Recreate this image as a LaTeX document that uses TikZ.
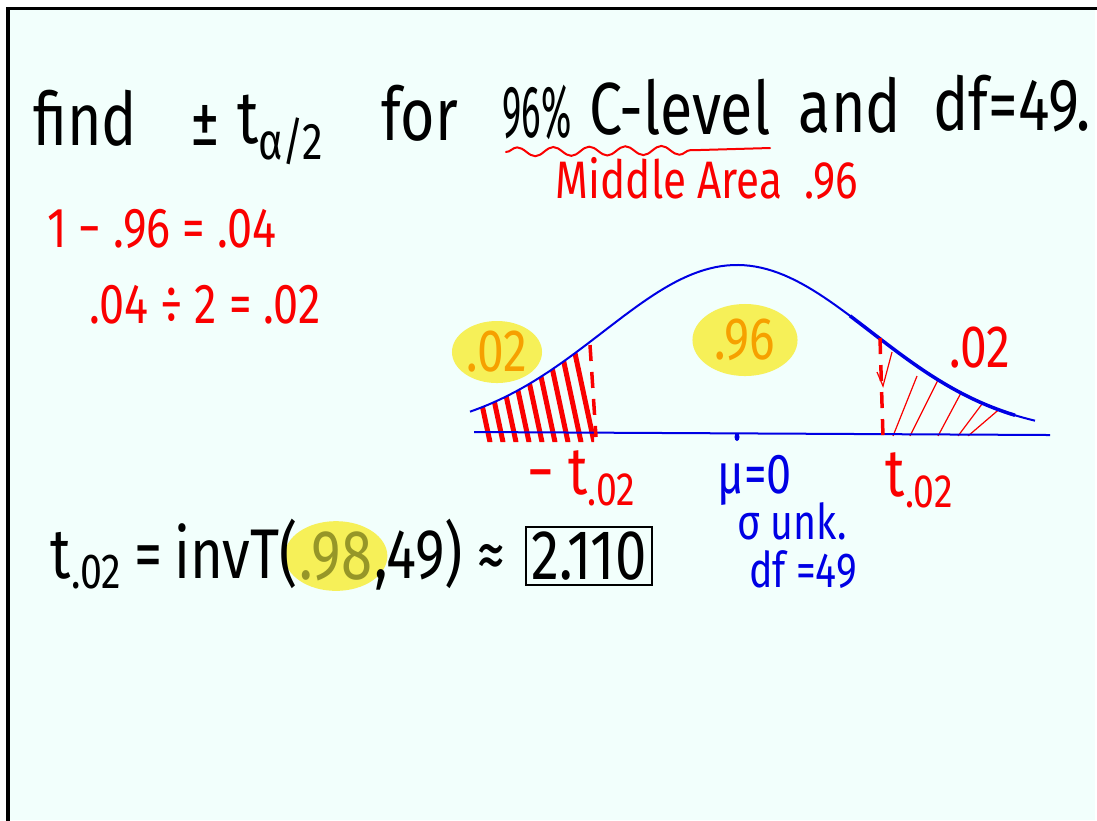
\documentclass[tikz,border=0pt]{standalone}
\usepackage{fontspec}
\setmainfont[FakeStretch=0.8]{Fira Sans}
\usetikzlibrary{positioning,shapes.geometric,decorations.pathmorphing}

\definecolor{paper}{RGB}{242,255,252}
\definecolor{inkred}{RGB}{250,0,0}
\definecolor{inkblue}{RGB}{0,0,228}
\definecolor{hilite}{RGB}{246,240,88}
\definecolor{inkorange}{RGB}{246,160,0}
\definecolor{inkolive}{RGB}{150,150,40}

\newcommand{\tcurve}[1]{435-170*exp(-0.5*((#1-737)/134)^2)}

\begin{document}
\begin{tikzpicture}[
        x=0.01cm, y=-0.01cm,
        title/.style={anchor=base, inner sep=0pt, font=\fontsize{21}{24}\selectfont},
        redtext/.style={text=inkred, inner sep=0pt, font=\fontsize{16}{19}\selectfont},
        bluetext/.style={text=inkblue, inner sep=0pt, font=\fontsize{14}{17}\selectfont},
        blacktext/.style={text=black, inner sep=0pt, font=\fontsize{20}{24}\selectfont},
        blob/.style={ellipse, fill=hilite, inner sep=0pt, text=inkorange, font=\fontsize{17}{20}\selectfont},
        redline/.style={draw=inkred, line width=0.02cm, line cap=round},
        curveline/.style={draw=inkblue, line width=0.02cm},
        hatchthick/.style={draw=inkred, line width=0.05cm, line cap=round},
        hatchthin/.style={draw=inkred, line width=0.012cm},
        cutline/.style={draw=inkred, line width=0.035cm, dash pattern=on 0.16cm off 0.11cm}
    ]

    % Paper and frame
    \useasboundingbox (0,0) rectangle (1097,820);
    \fill[white] (0,0) rectangle (1097,820);
    \fill[paper] (9,9) rectangle (1095,820);
    \draw[line width=0.03cm] (8,822) -- (8,8) -- (1097,8);

    % Question
    \node[title] (find) at (85,145) {find};
    \node[title] (pm) at (205,145) {±};
    \node[title] (talpha) at (281,143) {t\textsubscript{α/2}};
    \node[title] (for) at (420,140) {for};
    \node[title] (pct) at (537,137) {\scalebox{0.62}[1]{96\%}};
    \node[title] (clevel) at (680,134) {C-level};
    \node[title] (and) at (850,132) {and};
    \node[title] (df) at (1012,130) {df=49.};
    \draw[redline] decorate[decoration={snake, amplitude=0.045cm, segment length=0.36cm}] {(506,152) -- (700,150)} -- (770,148);
    \node[redtext, font=\fontsize{15}{18}\selectfont] (middle) at (707,178) {Middle Area\ \ .96};

    % Working on the left
    \node[redtext] (tails) at (162,229) {1 − .96 = .04};
    \node[redtext] (half) at (205,305) {.04 ÷ 2 = .02};

    % Highlights
    \node[blob, minimum width=0.9cm, minimum height=0.62cm] (leftarea) at (497,352) {.02};
    \node[blob, minimum width=1.05cm, minimum height=0.72cm] (midarea) at (745,340) {.96};
    \node[redtext, font=\fontsize{17}{20}\selectfont] (rightarea) at (980,348) {.02};

    % Shaded tails
    \begin{scope}
        \clip plot[domain=474:594, samples=40] (\x, {\tcurve{\x}}) -- (594,442) -- (474,442) -- cycle;
        \foreach \x in {490,503,...,596}
            \draw[hatchthick] ({\x-24},330) -- (\x,442);
    \end{scope}
    \begin{scope}
        \clip plot[domain=883:1035, samples=40] (\x, {\tcurve{\x}}) -- (1035,436) -- (883,436) -- cycle;
        \foreach \x/\dx in {893/24, 910/30, 938/32, 958/45, 968/70}
            \draw[hatchthin] (\x,436) -- ++(\dx,-60);
    \end{scope}
    \draw[hatchthin] (877,372) -- (883,386) -- (892,352);

    % Curve and axis
    \draw[curveline] plot[domain=470:1035, samples=100] (\x, {\tcurve{\x}});
    \draw[curveline, line width=0.035cm] plot[domain=850:1015, samples=40] (\x, {\tcurve{\x}});
    \coordinate (axisleft) at (474,432);
    \coordinate (axisright) at (1050,435);
    \draw[curveline] (axisleft) -- (axisright);
    \fill[inkblue] (737,437) ellipse (2.5 and 4);
    \draw[cutline] (590,345) -- (596,437);
    \draw[cutline] (880,338) -- (883,437);

    % Axis labels
    \node[redtext, font=\fontsize{19}{22}\selectfont] (lowt) at (582,478) {− t\textsubscript{.02}};
    \node[bluetext, font=\fontsize{16}{19}\selectfont] (mu) at (755,480) {μ=0};
    \node[redtext, font=\fontsize{19}{22}\selectfont] (hight) at (920,480) {t\textsubscript{.02}};
    \node[bluetext] (sigma) at (792,521) {σ\ unk.};
    \node[bluetext] (dfblue) at (803,570) {df =49};

    % Calculator step
    \node[blob, minimum width=0.74cm, minimum height=0.68cm, text=inkolive, font=\fontsize{20}{24}\selectfont] (prob) at (336,556) {.98};
    \node[blacktext, anchor=base west] (invt) at (50,578) {t\textsubscript{.02}\,=\,invT(};
    \node[blacktext, anchor=base west] (args) at (374,578) {,49) ≈};
    \node[blacktext, draw, line width=0.02cm, inner sep=0.05cm] (answer) at (589,556) {2.110};

\end{tikzpicture}
\end{document}
